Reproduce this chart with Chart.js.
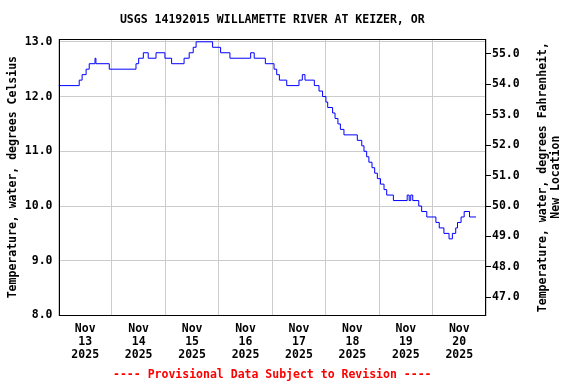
<!DOCTYPE html>
<html>
<head>
<meta charset="utf-8">
<script src="https://cdn.jsdelivr.net/npm/chart.js@4.4.0/dist/chart.umd.min.js"></script>
<style>
  body { margin: 0; background: #fff; }
  #wrap { width: 576px; height: 384px; position: relative; }
</style>
</head>
<body>
<div id="wrap"><canvas id="myChart"></canvas></div>
<script>
// horas desde Nov 13 00:00 donde cambia la temperatura
const horas = [0, 9.3, 10.6, 12.4, 13.8, 16.4, 16.8, 22.8, 34.8, 36.0, 38.1, 40.3, 43.8, 47.8, 50.8,
  56.4, 58.7, 60.5, 61.8, 69.2, 72.8, 77.0, 86.3, 87.9, 92.9, 96.8, 98.0, 99.2, 102.5, 108.0,
  109.5, 110.7, 114.9, 117.0, 118.6, 120.1, 120.9, 123.1, 124.2, 125.5, 126.6, 128.2, 134.2,
  136.2, 137.2, 138.4, 139.4, 140.8, 142.0, 143.2, 144.6, 146.2, 147.4, 150.4, 156.6, 157.5,
  158.2, 159.1, 161.8, 163.1, 165.4, 169.5, 171.0, 173.1, 175.4, 176.9, 178.4, 179.2, 180.8,
  182.2, 184.6, 187.5]
const tempC = [12.2, 12.3, 12.4, 12.5, 12.6, 12.7, 12.6, 12.5, 12.6, 12.7, 12.8, 12.7, 12.8, 12.7, 12.6,
  12.7, 12.8, 12.9, 13.0, 12.9, 12.8, 12.7, 12.8, 12.7, 12.6, 12.5, 12.4, 12.3, 12.2, 12.3,
  12.4, 12.3, 12.2, 12.1, 12.0, 11.9, 11.8, 11.7, 11.6, 11.5, 11.4, 11.3, 11.2,
  11.1, 11.0, 10.9, 10.8, 10.7, 10.6, 10.5, 10.4, 10.3, 10.2, 10.1, 10.2, 10.1,
  10.2, 10.1, 10.0, 9.9, 9.8, 9.7, 9.6, 9.5, 9.4, 9.5, 9.6, 9.7, 9.8,
  9.9, 9.8, 9.8]

const mes = 'Nov'
const dias = ['13', '14', '15', '16', '17', '18', '19', '20']
const anio = '2025'
const ticksC = [8, 9, 10, 11, 12, 13]
const ticksF = [47, 48, 49, 50, 51, 52, 53, 54, 55]
const minC = 8.0, maxC = 13.055

const titulo = 'USGS 14192015 WILLAMETTE RIVER AT KEIZER, OR'
const aviso = '---- Provisional Data Subject to Revision ----'

const cToF = c => c * 9 / 5 + 32
const fuente = { family: '"DejaVu Sans Mono", monospace', size: 11.5, weight: 'bold' }
const fuenteCss = 'bold 11.5px "DejaVu Sans Mono", monospace'

Chart.defaults.color = '#000'

// marco, titulo, aviso y titulo del eje derecho
const marco = {
  id: 'marco',
  afterDraw(chart) {
    const { ctx, chartArea: a } = chart
    const cx = (a.left + a.right) / 2
    ctx.save()
    ctx.strokeStyle = '#000'
    ctx.lineWidth = 1
    const l = Math.round(a.left) + 0.5, t = Math.round(a.top) + 0.5
    const r = Math.round(a.right) - 0.5, b = Math.round(a.bottom) - 0.5
    ctx.strokeRect(l, t, r - l, b - t)
    ctx.font = fuenteCss
    ctx.textAlign = 'center'
    ctx.textBaseline = 'middle'
    ctx.fillStyle = '#000'
    ctx.fillText(titulo, cx, 20)
    ctx.fillStyle = '#ff0000'
    ctx.fillText(aviso, cx, 375)
    ctx.fillStyle = '#000'
    ctx.translate(543, (a.top + a.bottom) / 2)
    ctx.rotate(-Math.PI / 2)
    ctx.fillText('Temperature, water, degrees Fahrenheit,', 0, 0)
    ctx.fillText('New Location', 0, 13)
    ctx.restore()
  }
}

const ctx = document.getElementById('myChart').getContext('2d')
const myChart = new Chart(ctx, {
  type: 'line',
  data: {
    datasets: [{
      label: 'Temperatura',
      data: horas.map((h, i) => ({ x: h, y: tempC[i] })),
      borderColor: '#0000ff',
      borderWidth: 1,
      pointRadius: 0,
      stepped: true,
      fill: false
    }]
  },
  options: {
    responsive: true,
    maintainAspectRatio: false,
    animation: false,
    layout: { padding: { top: 38.8, bottom: 19.8, left: 0, right: 0 } },
    plugins: {
      legend: { display: false },
      tooltip: { enabled: false },
      title: { display: false },
      subtitle: { display: false }
    },
    scales: {
      x: {
        type: 'linear',
        min: 0,
        max: 192,
        afterBuildTicks: s => {
          s.ticks = []
          for (let i = 0; i <= 16; i++) s.ticks.push({ value: i * 12 })
        },
        afterFit: s => { s.height = 48.7 },
        border: { display: false },
        grid: {
          drawTicks: false,
          color: c => (c.tick && c.tick.value % 24 === 0) ? '#cccccc' : 'rgba(0,0,0,0)'
        },
        ticks: {
          autoSkip: false,
          maxRotation: 0,
          padding: 7,
          font: { ...fuente, lineHeight: 1.13 },
          callback: v => v % 24 === 12 ? [mes, dias[(v - 12) / 24], anio] : ''
        }
      },
      y: {
        position: 'left',
        min: minC,
        max: maxC,
        afterBuildTicks: s => { s.ticks = ticksC.map(v => ({ value: v })) },
        afterFit: s => { s.width = 58.5 },
        border: { display: false },
        grid: { color: '#cccccc', drawTicks: false },
        ticks: { font: fuente, padding: 6, callback: v => v.toFixed(1) },
        title: {
          display: true,
          text: 'Temperature, water, degrees Celsius',
          font: fuente,
          padding: { top: 6, bottom: 0 }
        }
      },
      y2: {
        position: 'right',
        min: cToF(minC),
        max: cToF(maxC),
        afterBuildTicks: s => { s.ticks = ticksF.map(v => ({ value: v })) },
        afterFit: s => { s.width = 90 },
        border: { display: false },
        grid: { drawOnChartArea: false, color: '#000', tickLength: 5 },
        ticks: { font: fuente, padding: 1, callback: v => v.toFixed(1) }
      }
    }
  },
  plugins: [marco]
})
</script>
</body>
</html>
